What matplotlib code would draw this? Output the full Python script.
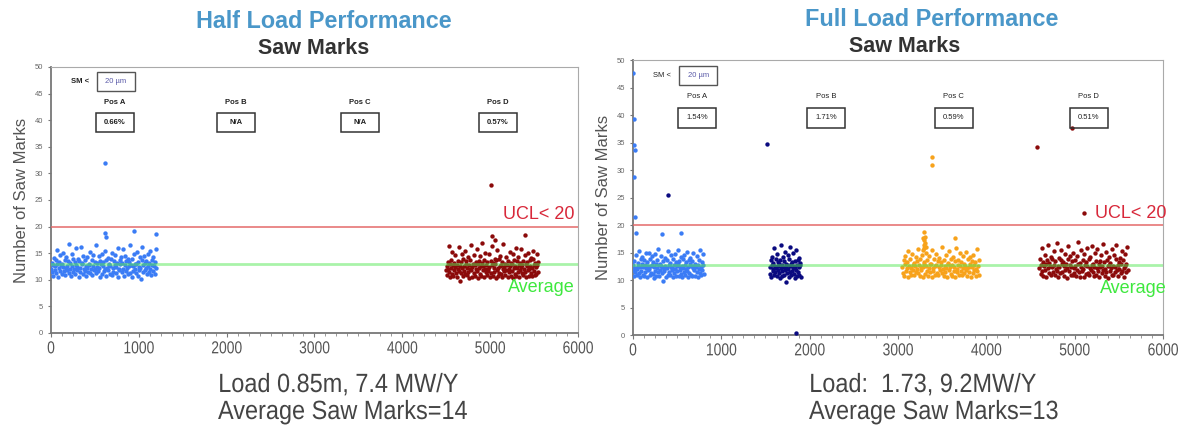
import numpy as np
import matplotlib
matplotlib.use("Agg")
import matplotlib.pyplot as plt
from matplotlib.patches import Rectangle
from matplotlib.ticker import MultipleLocator
from matplotlib.patheffects import AbstractPathEffect
from matplotlib.transforms import Affine2D

# ---------------- data ----------------
UCL = 20
AVG_HALF = 13.0
AVG_FULL = 12.7
x_ticks = [0, 1000, 2000, 3000, 4000, 5000, 6000]
x_tick_labels = ["0", "1000", "2000", "3000", "4000", "5000", "6000"]

# Half load: position A (blue) sample range and values
half_A_range = (0, 1200)
half_A = [12.1, 11.4, 13.2, 10.8, 12.7, 14.1, 11.9, 12.5, 13.8, 11.2, 15.6, 12.9, 10.6, 13.4, 12.2, 11.7, 14.6, 12.8, 11.1, 13.0,
          12.4, 15.1, 11.6, 13.7, 10.9, 12.3, 14.3, 11.8, 12.6, 13.5, 11.3, 16.7, 12.0, 13.1, 10.7, 14.8, 12.5, 11.5, 13.9, 12.1,
          11.0, 13.3, 12.7, 15.9, 11.9, 12.4, 14.0, 10.5, 13.6, 12.2, 11.4, 16.2, 12.9, 13.2, 11.1, 14.5, 12.0, 11.7, 13.8, 12.6,
          10.8, 12.3, 14.2, 11.5, 13.0, 12.8, 15.3, 11.2, 12.1, 13.7, 10.9, 12.6, 14.7, 11.8, 13.4, 12.0, 11.3, 16.5, 12.4, 13.1,
          11.6, 14.4, 12.2, 10.6, 13.5, 12.9, 11.0, 14.9, 12.5, 13.3, 11.7, 12.0, 15.4, 10.7, 13.8, 12.3, 11.9, 14.1, 12.7, 13.0,
          11.1, 12.6, 13.9, 10.9, 15.0, 12.2, 11.5, 13.6, 12.8, 14.6, 11.3, 12.4, 13.2, 10.5, 16.0, 12.1, 11.8, 13.7, 12.9, 14.2,
          11.4, 13.1, 12.0, 15.7, 10.8, 12.7, 14.4, 11.6, 13.5, 12.3, 11.0, 14.0, 12.6, 13.3, 11.2, 16.6, 12.8, 10.6, 13.9, 12.5,
          11.7, 14.8, 12.1, 13.0, 11.3, 12.9, 15.2, 10.7, 13.4, 12.4, 11.9, 14.3, 12.2, 10.1, 13.8, 16.1, 11.5, 12.7, 14.5, 13.1,
          11.8, 12.3, 13.6, 11.0, 14.9, 12.6, 11.4, 13.2, 15.5, 12.0, 10.9, 13.7, 12.8, 11.6, 14.2, 12.5, 13.4, 11.1, 15.8, 12.2]
half_A_out_x = [615, 620, 625, 950, 1200]
half_A_out_y = [32.0, 18.8, 18.1, 19.2, 18.6]

# Half load: position D (dark red)
half_D_range = (4500, 5550)
half_D = [11.8, 12.6, 10.9, 13.4, 12.1, 16.3, 11.4, 12.9, 10.6, 13.8, 12.3, 11.1, 15.2, 12.7, 10.8, 13.1, 11.9, 12.4, 14.6, 11.3,
          12.8, 10.5, 13.6, 12.0, 16.1, 11.6, 12.5, 9.7, 13.3, 11.2, 14.9, 12.2, 10.7, 13.9, 11.7, 12.6, 15.5, 11.0, 12.9, 13.5,
          10.9, 12.3, 14.2, 11.5, 12.8, 10.4, 13.7, 12.1, 16.5, 11.8, 12.4, 10.6, 13.0, 14.7, 11.3, 12.7, 10.8, 13.4, 12.0, 15.8,
          11.6, 12.9, 10.3, 13.6, 12.2, 11.1, 14.4, 12.6, 10.7, 13.2, 17.0, 11.9, 12.5, 10.5, 13.8, 12.0, 15.1, 11.4, 12.8, 10.9,
          13.3, 12.1, 11.7, 14.8, 12.4, 10.6, 13.5, 11.2, 16.4, 12.7, 10.8, 13.1, 12.3, 11.5, 14.0, 12.9, 10.4, 13.7, 11.8, 15.6,
          12.2, 10.7, 13.9, 11.3, 12.6, 14.5, 11.0, 12.8, 10.5, 13.4, 12.1, 16.8, 11.6, 12.4, 10.9, 13.0, 14.2, 11.9, 12.7, 10.6,
          13.6, 12.0, 11.4, 15.3, 12.5, 10.8, 13.2, 11.7, 12.9, 14.9, 10.3, 12.3, 13.8, 11.1, 12.6, 16.0, 10.7, 13.5, 12.2, 11.5,
          14.3, 12.8, 10.6, 13.1, 11.9, 12.4, 15.7, 11.2, 12.7, 10.9, 13.6, 12.0, 14.6, 11.4, 12.9, 10.5, 13.3, 12.5, 15.0, 11.8,
          12.1, 10.8, 13.7, 12.6, 11.3, 14.1, 12.3, 10.7, 13.9, 15.4, 11.6, 12.8, 10.9, 13.2, 12.4, 11.0, 14.8, 12.7, 11.5, 13.4]
half_D_out_x = [5010, 5020, 5400, 5050]
half_D_out_y = [27.9, 18.2, 18.4, 17.5]

# Full load: position A (blue)
full_A_range = (0, 800)
full_A = [11.9, 12.8, 10.7, 13.5, 12.2, 11.4, 14.6, 12.0, 10.9, 13.1, 12.6, 11.2, 15.3, 12.4, 10.5, 13.8, 11.7, 12.9, 14.1, 11.0,
          12.3, 13.6, 10.8, 12.7, 11.5, 14.9, 12.1, 10.6, 13.3, 12.5, 11.8, 15.0, 12.0, 13.9, 10.9, 12.6, 11.3, 14.3, 12.8, 11.1,
          13.2, 10.4, 12.4, 14.7, 11.6, 12.9, 10.7, 13.7, 12.2, 11.4, 15.6, 12.7, 10.8, 13.0, 11.9, 12.5, 14.4, 11.2, 12.3, 9.8,
          13.4, 12.0, 11.7, 14.0, 12.6, 10.6, 13.6, 12.1, 11.0, 15.2, 12.8, 11.5, 13.1, 10.9, 12.4, 14.5, 11.8, 12.2, 10.5, 13.8,
          12.7, 11.3, 14.8, 12.0, 10.7, 13.3, 12.5, 11.6, 15.4, 12.9, 10.8, 13.5, 11.9, 12.3, 14.2, 11.1, 12.6, 10.6, 13.9, 12.1,
          11.4, 14.6, 12.8, 10.9, 13.2, 12.0, 11.7, 15.1, 12.4, 10.5, 13.7, 11.2, 12.9, 14.0, 11.0, 12.5, 13.4, 10.7, 12.2, 14.9,
          11.8, 12.6, 10.8, 13.0, 12.3, 11.5, 14.4, 12.7, 10.6, 13.6, 12.0, 11.3, 15.5, 12.4, 10.9, 13.3, 11.9, 12.8, 14.7, 11.1]
full_A_out_x = [5, 10, 15, 20, 10, 25, 30, 330, 540]
full_A_out_y = [47.7, 39.3, 34.6, 33.6, 28.8, 21.5, 18.5, 18.3, 18.6]

# Full load: position B (navy)
full_B_range = (1550, 1900)
full_B = [12.3, 11.1, 13.6, 10.5, 12.8, 14.2, 11.7, 12.0, 13.1, 10.9, 15.8, 12.5, 11.4, 13.9, 12.2, 10.7, 14.7, 11.9, 12.6, 13.3,
          11.2, 12.9, 10.4, 13.7, 12.1, 16.3, 11.6, 12.7, 10.8, 14.1, 12.4, 11.0, 13.5, 15.1, 11.8, 12.3, 9.6, 13.0, 12.8, 11.3,
          14.5, 12.0, 10.6, 13.8, 12.5, 11.5, 16.0, 12.9, 10.9, 13.2, 11.7, 12.2, 14.9, 11.1, 12.6, 10.3, 13.4, 12.1, 11.9, 15.4,
          12.7, 10.8, 13.6, 11.4, 12.4, 14.0, 11.0, 12.8, 13.1, 10.6]
full_B_out_x = [1850, 400, 1520]
full_B_out_y = [0.3, 25.4, 34.8]

# Full load: position C (orange)
full_C_range = (3050, 3920)
full_C = [12.4, 11.2, 13.7, 10.8, 12.9, 14.4, 11.6, 12.1, 13.3, 10.6, 15.2, 12.6, 11.4, 13.9, 12.2, 11.0, 14.8, 12.7, 11.8, 13.1,
          10.9, 12.5, 14.1, 11.5, 13.5, 12.0, 15.7, 11.3, 12.8, 10.7, 13.8, 12.3, 11.9, 14.6, 12.4, 10.5, 13.2, 12.9, 11.1, 15.0,
          12.6, 11.7, 13.6, 10.8, 12.2, 14.3, 11.4, 12.9, 13.0, 10.6, 15.5, 12.1, 11.6, 13.9, 12.5, 11.0, 14.7, 12.8, 11.3, 13.4,
          10.9, 12.3, 14.0, 11.8, 13.3, 12.7, 16.0, 11.2, 12.0, 10.7, 13.7, 12.6, 11.5, 14.5, 12.2, 10.5, 13.1, 12.9, 11.9, 15.3,
          12.4, 11.1, 13.8, 10.8, 12.7, 14.2, 11.7, 12.3, 13.5, 10.6, 15.9, 12.0, 11.4, 13.6, 12.8, 11.0, 14.9, 12.5, 11.6, 13.2,
          10.9, 12.2, 14.4, 11.3, 13.0, 12.6, 15.1, 11.8, 12.1, 10.7, 13.9, 12.4, 11.5, 14.1, 12.9, 10.5, 13.4, 12.3, 11.2, 14.6,
          12.7, 11.9, 13.3, 10.8, 12.0, 15.6, 11.6, 12.5, 13.7, 11.0]
full_C_out_x = [3280, 3290, 3295, 3300, 3305, 3310, 3300, 3320, 3285, 3650, 3380, 3380]
full_C_out_y = [15.5, 16.3, 17.2, 18.7, 17.8, 16.8, 15.9, 16.0, 17.6, 17.6, 32.4, 31.0]

# Full load: position D (dark red)
full_D_range = (4600, 5600)
full_D = [12.2, 13.9, 11.1, 12.7, 15.8, 11.6, 13.3, 10.8, 12.5, 14.6, 11.9, 12.9, 10.5, 13.6, 16.4, 12.1, 11.3, 13.1, 12.6, 14.2,
          10.9, 12.4, 13.8, 11.5, 15.2, 12.8, 11.0, 13.4, 12.0, 16.7, 11.7, 12.6, 10.6, 14.0, 12.3, 11.2, 13.7, 15.5, 12.9, 11.4,
          13.2, 10.7, 12.5, 14.8, 11.8, 13.0, 12.2, 10.4, 13.9, 16.1, 11.6, 12.7, 14.4, 11.0, 12.4, 13.5, 10.9, 15.0, 12.1, 11.3,
          13.7, 12.6, 10.8, 14.3, 11.9, 12.9, 16.9, 11.4, 13.1, 10.6, 12.3, 15.4, 11.7, 13.6, 12.0, 10.5, 14.7, 12.8, 11.1, 13.3,
          12.5, 15.9, 11.2, 13.8, 10.9, 12.2, 14.1, 11.8, 12.7, 16.2, 11.5, 13.0, 10.7, 12.4, 14.9, 11.0, 13.4, 12.1, 15.6, 11.6,
          12.9, 10.6, 13.5, 12.3, 14.5, 11.3, 12.6, 16.6, 11.9, 13.2, 10.8, 12.0, 15.1, 11.4, 13.7, 12.5, 10.4, 14.2, 12.8, 11.7,
          13.1, 12.2, 15.7, 11.0, 12.6, 10.9, 14.6, 12.4, 11.5, 13.9, 16.3, 11.8, 12.7, 10.7, 13.3, 12.0, 14.0, 11.2, 12.9, 15.3,
          11.6, 13.6, 12.1, 10.5, 14.8, 12.5, 11.4, 13.0, 16.0, 11.9]
full_D_out_x = [4570, 4970, 5110]
full_D_out_y = [34.2, 37.6, 22.1]

positions = ["Pos A", "Pos B", "Pos C", "Pos D"]
half_pct = ["0.66%", "N/A", "N/A", "0.57%"]
full_pct = ["1.54%", "1.71%", "0.59%", "0.51%"]
half_pos_x = [730, 2110, 3520, 5090]
full_pos_x = [725, 2185, 3630, 5160]


# ---------------- style ----------------
class Condense(AbstractPathEffect):
    """Squeeze a text path horizontally (emulates a narrow typeface)."""

    def __init__(self, sx, anchor="center"):
        super().__init__()
        self.sx = sx
        self.anchor = anchor

    def draw_path(self, renderer, gc, tpath, affine, rgbFace=None):
        ext = tpath.get_extents(affine)
        x0 = ext.x0 if self.anchor == "left" else 0.5 * (ext.x0 + ext.x1)
        a = affine + Affine2D().translate(-x0, 0).scale(self.sx, 1.0).translate(x0, 0)
        renderer.draw_path(gc, tpath, a, rgbFace)


C_BLUE = "#3b7cf5"
C_NAVY = "#0a0a80"
C_ORANGE = "#f7a21b"
C_DRED = "#8b0a0a"
SANS = ["Liberation Sans", "DejaVu Sans"]
plt.rcParams["font.family"] = SANS
MS = 10

fig = plt.figure(figsize=(11.8, 4.3), dpi=100)
axL = fig.add_axes([0.0432, 0.2256, 0.4466, 0.6186])
axR = fig.add_axes([0.5364, 0.2209, 0.4492, 0.6395])


def cluster(ax, rng, vals, color):
    x = np.linspace(rng[0], rng[1], len(vals))
    ax.scatter(x, vals, s=MS, color=color, lw=0, zorder=3)


def setup(ax, avg, ucl_x, bold):
    ax.set_xlim(0, 6000)
    ax.set_ylim(0, 50)
    ax.set_xticks(x_ticks, labels=x_tick_labels, fontsize=12.5, color="#555",
                  path_effects=[Condense(0.8)])
    ax.xaxis.set_minor_locator(MultipleLocator(125))
    ax.yaxis.set_major_locator(MultipleLocator(5))
    ax.tick_params(axis="y", labelsize=5.5, labelcolor="#666", length=2.5, color="#777", pad=3)
    ax.tick_params(axis="x", which="major", length=3, color="#777", pad=3)
    ax.tick_params(axis="x", which="minor", length=2, color="#888")
    for s in ["left", "bottom"]:
        ax.spines[s].set_color("#777")
        ax.spines[s].set_linewidth(1.3)
    for s in ["top", "right"]:
        ax.spines[s].set_color("#aaa")
        ax.spines[s].set_linewidth(0.8)
    ax.axhline(UCL, color="#e46a6a", lw=1.1, zorder=4)
    ax.axhline(avg, color="#55e855", lw=2.0, alpha=0.5, zorder=5)
    ax.text(ucl_x, UCL + 0.6, "UCL< 20", ha="right", va="bottom", fontsize=13,
            color="#d8283a", clip_on=False, zorder=6)
    ax.text(ucl_x, 8.5, "Average", ha="right", va="center", fontsize=13,
            color="#3ee83e", clip_on=False, zorder=6)
    ax.set_ylabel("Number of Saw Marks", fontsize=12, color="#555", labelpad=4)
    fw = "bold" if bold else "normal"
    # SM < 20 µm box
    ax.text(330, 47.2, "SM <", ha="center", va="center", fontsize=5.5, fontweight=fw, color="#222")
    ax.add_patch(Rectangle((740 - 215, 47.2 - 1.8), 430, 3.6, fill=False, ec="#555", lw=1.0, zorder=6))
    ax.text(740, 47.2, "20 µm", ha="center", va="center", fontsize=5.5, color="#5a5aa8")


setup(axL, AVG_HALF, 5960, True)
setup(axR, AVG_FULL, 6040, False)

cluster(axL, half_A_range, half_A, C_BLUE)
cluster(axL, half_D_range, half_D, C_DRED)
axL.scatter(half_A_out_x, half_A_out_y, s=MS, color=C_BLUE, lw=0, zorder=3)
axL.scatter(half_D_out_x, half_D_out_y, s=MS, color=C_DRED, lw=0, zorder=3)

cluster(axR, full_A_range, full_A, C_BLUE)
cluster(axR, full_B_range, full_B, C_NAVY)
cluster(axR, full_C_range, full_C, C_ORANGE)
cluster(axR, full_D_range, full_D, C_DRED)
axR.scatter(full_A_out_x, full_A_out_y, s=MS, color=C_BLUE, lw=0, zorder=3)
axR.scatter(full_B_out_x, full_B_out_y, s=MS, color=C_NAVY, lw=0, zorder=3)
axR.scatter(full_C_out_x, full_C_out_y, s=MS, color=C_ORANGE, lw=0, zorder=3)
axR.scatter(full_D_out_x, full_D_out_y, s=MS, color=C_DRED, lw=0, zorder=3)


def pos_boxes(ax, xs, pcts, bold):
    fw = "bold" if bold else "normal"
    for xc, name, pct in zip(xs, positions, pcts):
        ax.text(xc, 43.3, name, ha="center", va="center", fontsize=5.5, fontweight=fw, color="#222")
        ax.add_patch(Rectangle((xc - 215, 39.5 - 1.8), 430, 3.6, fill=False, ec="#333", lw=1.1, zorder=6))
        ax.text(xc, 39.5, pct, ha="center", va="center", fontsize=5.5, fontweight=fw, color="#222")


pos_boxes(axL, half_pos_x, half_pct, True)
pos_boxes(axR, full_pos_x, full_pct, False)

# titles
fig.text(324 / 1180, 1 - 21 / 430, "Half Load Performance", ha="center", va="center",
         fontsize=16.8, fontweight="bold", color="#4a97c9")
fig.text(314 / 1180, 1 - 48 / 430, "Saw Marks", ha="center", va="center",
         fontsize=15.5, fontweight="bold", color="#333")
fig.text(932 / 1180, 1 - 19 / 430, "Full Load Performance", ha="center", va="center",
         fontsize=16.8, fontweight="bold", color="#4a97c9")
fig.text(905 / 1180, 1 - 47 / 430, "Saw Marks", ha="center", va="center",
         fontsize=15.5, fontweight="bold", color="#333")

# bottom notes
note_kw = dict(ha="left", va="center", fontsize=19, color="#444",
               path_effects=[Condense(0.89, anchor="left")])
fig.text(218 / 1180, 1 - 385 / 430, "Load 0.85m, 7.4 MW/Y", **note_kw)
fig.text(218 / 1180, 1 - 412 / 430, "Average Saw Marks=14", **note_kw)
fig.text(809 / 1180, 1 - 385 / 430, "Load:  1.73, 9.2MW/Y", **note_kw)
fig.text(809 / 1180, 1 - 412 / 430, "Average Saw Marks=13", **note_kw)

fig.savefig("out.png", dpi=100, facecolor="white")
